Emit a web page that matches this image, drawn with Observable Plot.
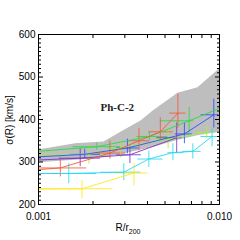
<!DOCTYPE html>
<html><head><meta charset="utf-8">
<script src="https://cdn.jsdelivr.net/npm/d3@7"></script>
<script src="https://cdn.jsdelivr.net/npm/@observablehq/plot@0.6"></script>
<style>body{margin:0;background:#fff}#c{width:240px;height:240px}</style>
</head><body><div id="c"></div>
<script>
// ---- data (x = R/r200, y = sigma km/s, xlo, xhi, ylo, yhi) ----
const bandX  = [0.001, 0.0016, 0.0023, 0.0029, 0.0037, 0.0043, 0.0059, 0.0076, 0.01];
const bandLo = [298, 304, 310, 318, 328, 334, 351, 362, 370];
const bandHi = [328, 343, 347, 372, 397, 420, 462, 475, 519];

const green  = [[0.0008, 322], [0.0021, 336, 0.00155, 0.00285, 328, 345], [0.0041, 360, 0.0035, 0.0052, 350, 372], [0.0068, 397, 0.0047, 0.0072, 362, 428], [0.012, 440]];
const lime   = [[0.0008, 319], [0.0019, 318, 0.0016, 0.0023, 295, 336], [0.00285, 333, 0.0025, 0.0034, 310, 350], [0.0052, 354, 0.0044, 0.0058, 331, 378], [0.0085, 370, 0.0076, 0.0095, 355, 385]];
const blue   = [[0.0008, 310], [0.0018, 318, 0.0015, 0.0022, 308, 330], [0.0031, 333, 0.0027, 0.0036, 319, 354], [0.0064, 366, 0.0057, 0.0071, 343, 392], [0.0093, 411, 0.0079, 0.0099, 380, 448]];
const purple = [[0.0008, 303], [0.0017, 309, 0.0013, 0.0022, 289, 331], [0.0032, 317, 0.0027, 0.0037, 296, 338], [0.0058, 357, 0.0045, 0.0062, 321, 392]];
const red    = [[0.0008, 279], [0.00132, 286, 0.00098, 0.00185, 265, 304], [0.00248, 321, 0.00202, 0.00304, 307, 350], [0.00359, 350, 0.0031, 0.0041, 326, 378], [0.00471, 371, 0.00407, 0.00553, 350, 404], [0.00589, 415, 0.00532, 0.00652, 380, 460]];
const cyan   = [[0.0008, 273], [0.00147, 273, 0.00095, 0.0021, 249, 296], [0.00296, 276, 0.00221, 0.00368, 256, 296], [0.00407, 307, 0.00354, 0.00487, 287, 326], [0.00553, 322, 0.00518, 0.00635, 303, 343], [0.00712, 325, 0.00627, 0.00791, 307, 343], [0.0091, 360, 0.0079, 0.0099, 336, 378]];
const yellow = [[0.0008, 236], [0.00174, 237, 0.001, 0.00258, 213, 256], [0.00337, 274, 0.00268, 0.00402, 244, 296]];

const seriesNames  = ["green", "lime", "blue", "purple", "red", "cyan", "yellow"];
const seriesColors = ["#2fd84a", "#a0f040", "#3050ff", "#7a38c8", "#f55a36", "#28d8f2", "#ffe81e"];
const seriesData   = [green, lime, blue, purple, red, cyan, yellow];

const xMajorTicks = [0.001, 0.01];
const xMinorTicks = [0.002, 0.003, 0.004, 0.005, 0.006, 0.007, 0.008, 0.009];
const yMajorTicks = [200, 300, 400, 500, 600];
const yMinorTicks = [210,220,230,240,250,260,270,280,290,310,320,330,340,350,360,370,380,390,410,420,430,440,450,460,470,480,490,510,520,530,540,550,560,570,580,590];
const panelLabel = "Ph-C-2";
const xTitle = ["R/r", "200"];
const yTitle = "σ(R) [km/s]";

// ---- build tables ----
const band = bandX.map((x, i) => ({x, lo: bandLo[i], hi: bandHi[i]}));
const pts = [];
seriesData.forEach((s, k) => s.forEach(r => pts.push({
  series: seriesNames[k], color: seriesColors[k],
  x: r[0], y: r[1], xlo: r[2], xhi: r[3], ylo: r[4], yhi: r[5]
})));
const bars = pts.filter(d => d.xlo != null);

const fmt = d3.format(".3f");
const axFont = "Liberation Sans, Arial, sans-serif";

const chart = Plot.plot({
  width: 240, height: 240,
  marginLeft: 38, marginRight: 21, marginTop: 34, marginBottom: 36,
  style: {fontFamily: axFont, fontSize: "10px", color: "#000", background: "#fff"},
  x: {type: "log", domain: [0.001, 0.01], label: null},
  y: {domain: [200, 600], label: null},
  color: {type: "identity"},
  marks: [
    Plot.areaY(band, {x: "x", y1: "lo", y2: "hi", fill: "#bebebe", clip: true}),
    Plot.ruleY(bars, {y: "y", x1: "xlo", x2: "xhi", stroke: "color", strokeWidth: 1, strokeOpacity: 0.85, clip: true}),
    Plot.ruleX(bars, {x: "x", y1: "ylo", y2: "yhi", stroke: "color", strokeWidth: 1, strokeOpacity: 0.85, clip: true}),
    Plot.line(pts, {x: "x", y: "y", z: "series", stroke: "color", strokeWidth: 1, strokeOpacity: 0.9, clip: true}),
    Plot.text([panelLabel], {x: [0.0022], y: [428], text: d => d, textAnchor: "start", fontFamily: "Liberation Serif, DejaVu Serif, serif", fontWeight: "bold", fontSize: 11, fill: "#222"}),
    Plot.frame({stroke: "#000", strokeWidth: 1}),
    // labels
    Plot.axisX(xMajorTicks, {anchor: "bottom", tickSize: 0, tickPadding: 8, tickFormat: fmt, label: null}),
    Plot.axisY(yMajorTicks, {anchor: "left", tickSize: 0, tickPadding: 3, tickFormat: d => String(d), label: null}),
    // inward ticks
    Plot.axisX(xMajorTicks, {anchor: "bottom", tickSize: -5, tickFormat: () => "", label: null}),
    Plot.axisX(xMinorTicks, {anchor: "bottom", tickSize: -3, tickFormat: () => "", label: null}),
    Plot.axisX(xMajorTicks, {anchor: "top", tickSize: -5, tickFormat: () => "", label: null}),
    Plot.axisX(xMinorTicks, {anchor: "top", tickSize: -3, tickFormat: () => "", label: null}),
    Plot.axisY(yMajorTicks, {anchor: "left", tickSize: -5, tickFormat: () => "", label: null}),
    Plot.axisY(yMinorTicks, {anchor: "left", tickSize: -3, tickFormat: () => "", label: null}),
    Plot.axisY(yMajorTicks, {anchor: "right", tickSize: -5, tickFormat: () => "", label: null}),
    Plot.axisY(yMinorTicks, {anchor: "right", tickSize: -3, tickFormat: () => "", label: null})
  ]
});
document.getElementById("c").appendChild(chart);

// axis titles
const svg = d3.select(chart);
const xt = svg.append("text").attr("x", 128).attr("y", 231).attr("text-anchor", "middle")
  .attr("font-family", axFont).attr("font-size", 10).attr("fill", "#000");
xt.append("tspan").text(xTitle[0]);
xt.append("tspan").attr("font-size", 7).attr("dy", 3).text(xTitle[1]);
svg.append("text").attr("transform", "translate(13,120) rotate(-90)").attr("text-anchor", "middle")
  .attr("font-family", axFont).attr("font-size", 10).attr("fill", "#000").text(yTitle);
</script>
</body></html>
